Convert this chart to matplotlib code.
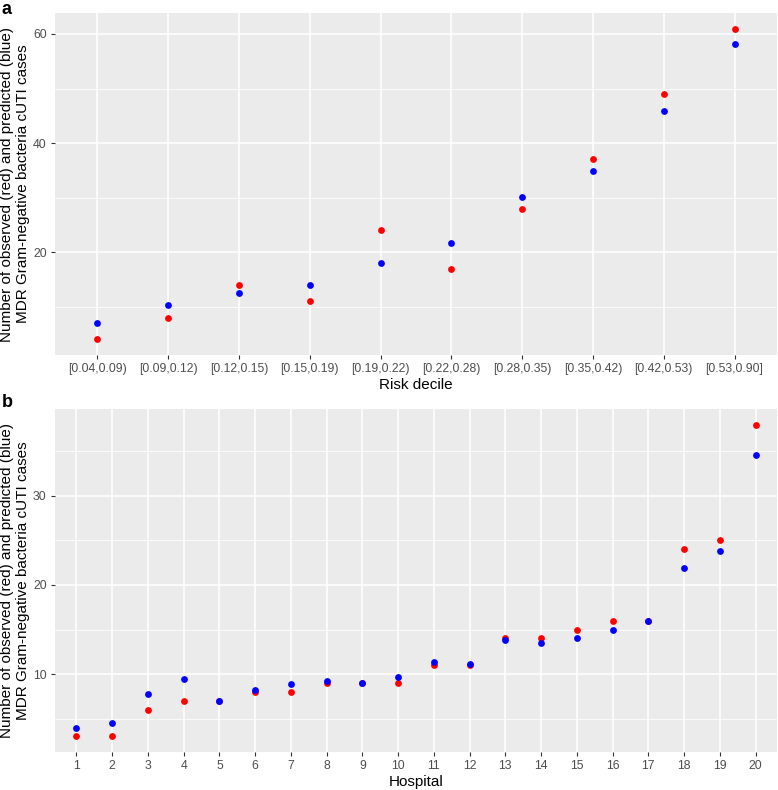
import numpy as np
import matplotlib
matplotlib.use("Agg")
import matplotlib.pyplot as plt
from matplotlib.ticker import MultipleLocator

plt.rcParams['font.family'] = ['Liberation Sans', 'DejaVu Sans']

# Panel a: risk deciles
deciles = ["[0.04,0.09)", "[0.09,0.12)", "[0.12,0.15)", "[0.15,0.19)", "[0.19,0.22)",
           "[0.22,0.28)", "[0.28,0.35)", "[0.35,0.42)", "[0.42,0.53)", "[0.53,0.90]"]
decile_observed = [4, 8, 14, 11, 24, 17, 28, 37, 49, 61]
decile_predicted = [7.1, 10.4, 12.5, 14.0, 18.1, 21.7, 30.1, 34.9, 45.8, 58.2]

# Panel b: hospitals
hospitals = [str(i) for i in range(1, 21)]
hospital_observed = [3, 3, 6, 7, 7, 8, 8, 9, 9, 9, 11, 11, 14, 14, 15, 16, 16, 24, 25, 38]
hospital_predicted = [3.9, 4.5, 7.8, 9.4, 7.0, 8.2, 8.9, 9.2, 9.0, 9.7,
                      11.3, 11.1, 13.8, 13.5, 14.0, 15.0, 16.0, 21.9, 23.8, 34.6]

YLABEL = "Number of observed (red) and predicted (blue)\nMDR Gram-negative bacteria cUTI cases"
W, H = 778, 790


def gg_panel(ax, labels, observed, predicted, major, xlabel):
    x = np.arange(len(labels))
    ax.set_facecolor("#EBEBEB")
    for s in ax.spines.values():
        s.set_visible(False)
    ax.scatter(x, observed, s=24, color="red", zorder=3, linewidths=0)
    ax.scatter(x, predicted, s=24, color="blue", zorder=3, linewidths=0)

    lo = min(min(observed), min(predicted))
    hi = max(max(observed), max(predicted))
    pad = 0.05 * (hi - lo)
    ax.set_ylim(lo - pad, hi + pad)
    ax.set_xlim(-0.6, len(labels) - 0.4)

    ax.set_xticks(x)
    ax.set_xticklabels(labels)
    ax.yaxis.set_major_locator(MultipleLocator(major))
    ax.yaxis.set_minor_locator(MultipleLocator(major / 2))
    ax.grid(True, which="major", color="white", linewidth=1.1)
    ax.grid(True, which="minor", axis="y", color="white", linewidth=0.55)
    ax.set_axisbelow(True)
    ax.tick_params(which="major", colors="#333333", length=3, width=0.8,
                   labelcolor="#4D4D4D", labelsize=8.8, pad=3)
    ax.tick_params(which="minor", length=0)

    ax.set_xlabel(xlabel, fontsize=11, labelpad=2)
    ax.set_ylabel(YLABEL, fontsize=11, multialignment="center")
    width_px = ax.get_position().width * W
    ax.yaxis.set_label_coords((15 - 55) / width_px, 0.5)
    ax.yaxis.label.set_va("center")


fig = plt.figure(figsize=(W / 100, H / 100), dpi=100)
ax_a = fig.add_axes([55 / W, 1 - 355 / H, (777 - 55) / W, (355 - 13) / H])
ax_b = fig.add_axes([55 / W, 1 - 752 / H, (777 - 55) / W, (752 - 409) / H])

gg_panel(ax_a, deciles, decile_observed, decile_predicted, 20, "Risk decile")
gg_panel(ax_b, hospitals, hospital_observed, hospital_predicted, 10, "Hospital")

fig.text(2 / W, 1 - 0.5 / H, "a", fontsize=13, fontweight="bold", va="top", ha="left")
fig.text(2 / W, 1 - 394 / H, "b", fontsize=13, fontweight="bold", va="top", ha="left")

fig.savefig("out.png", dpi=100)
